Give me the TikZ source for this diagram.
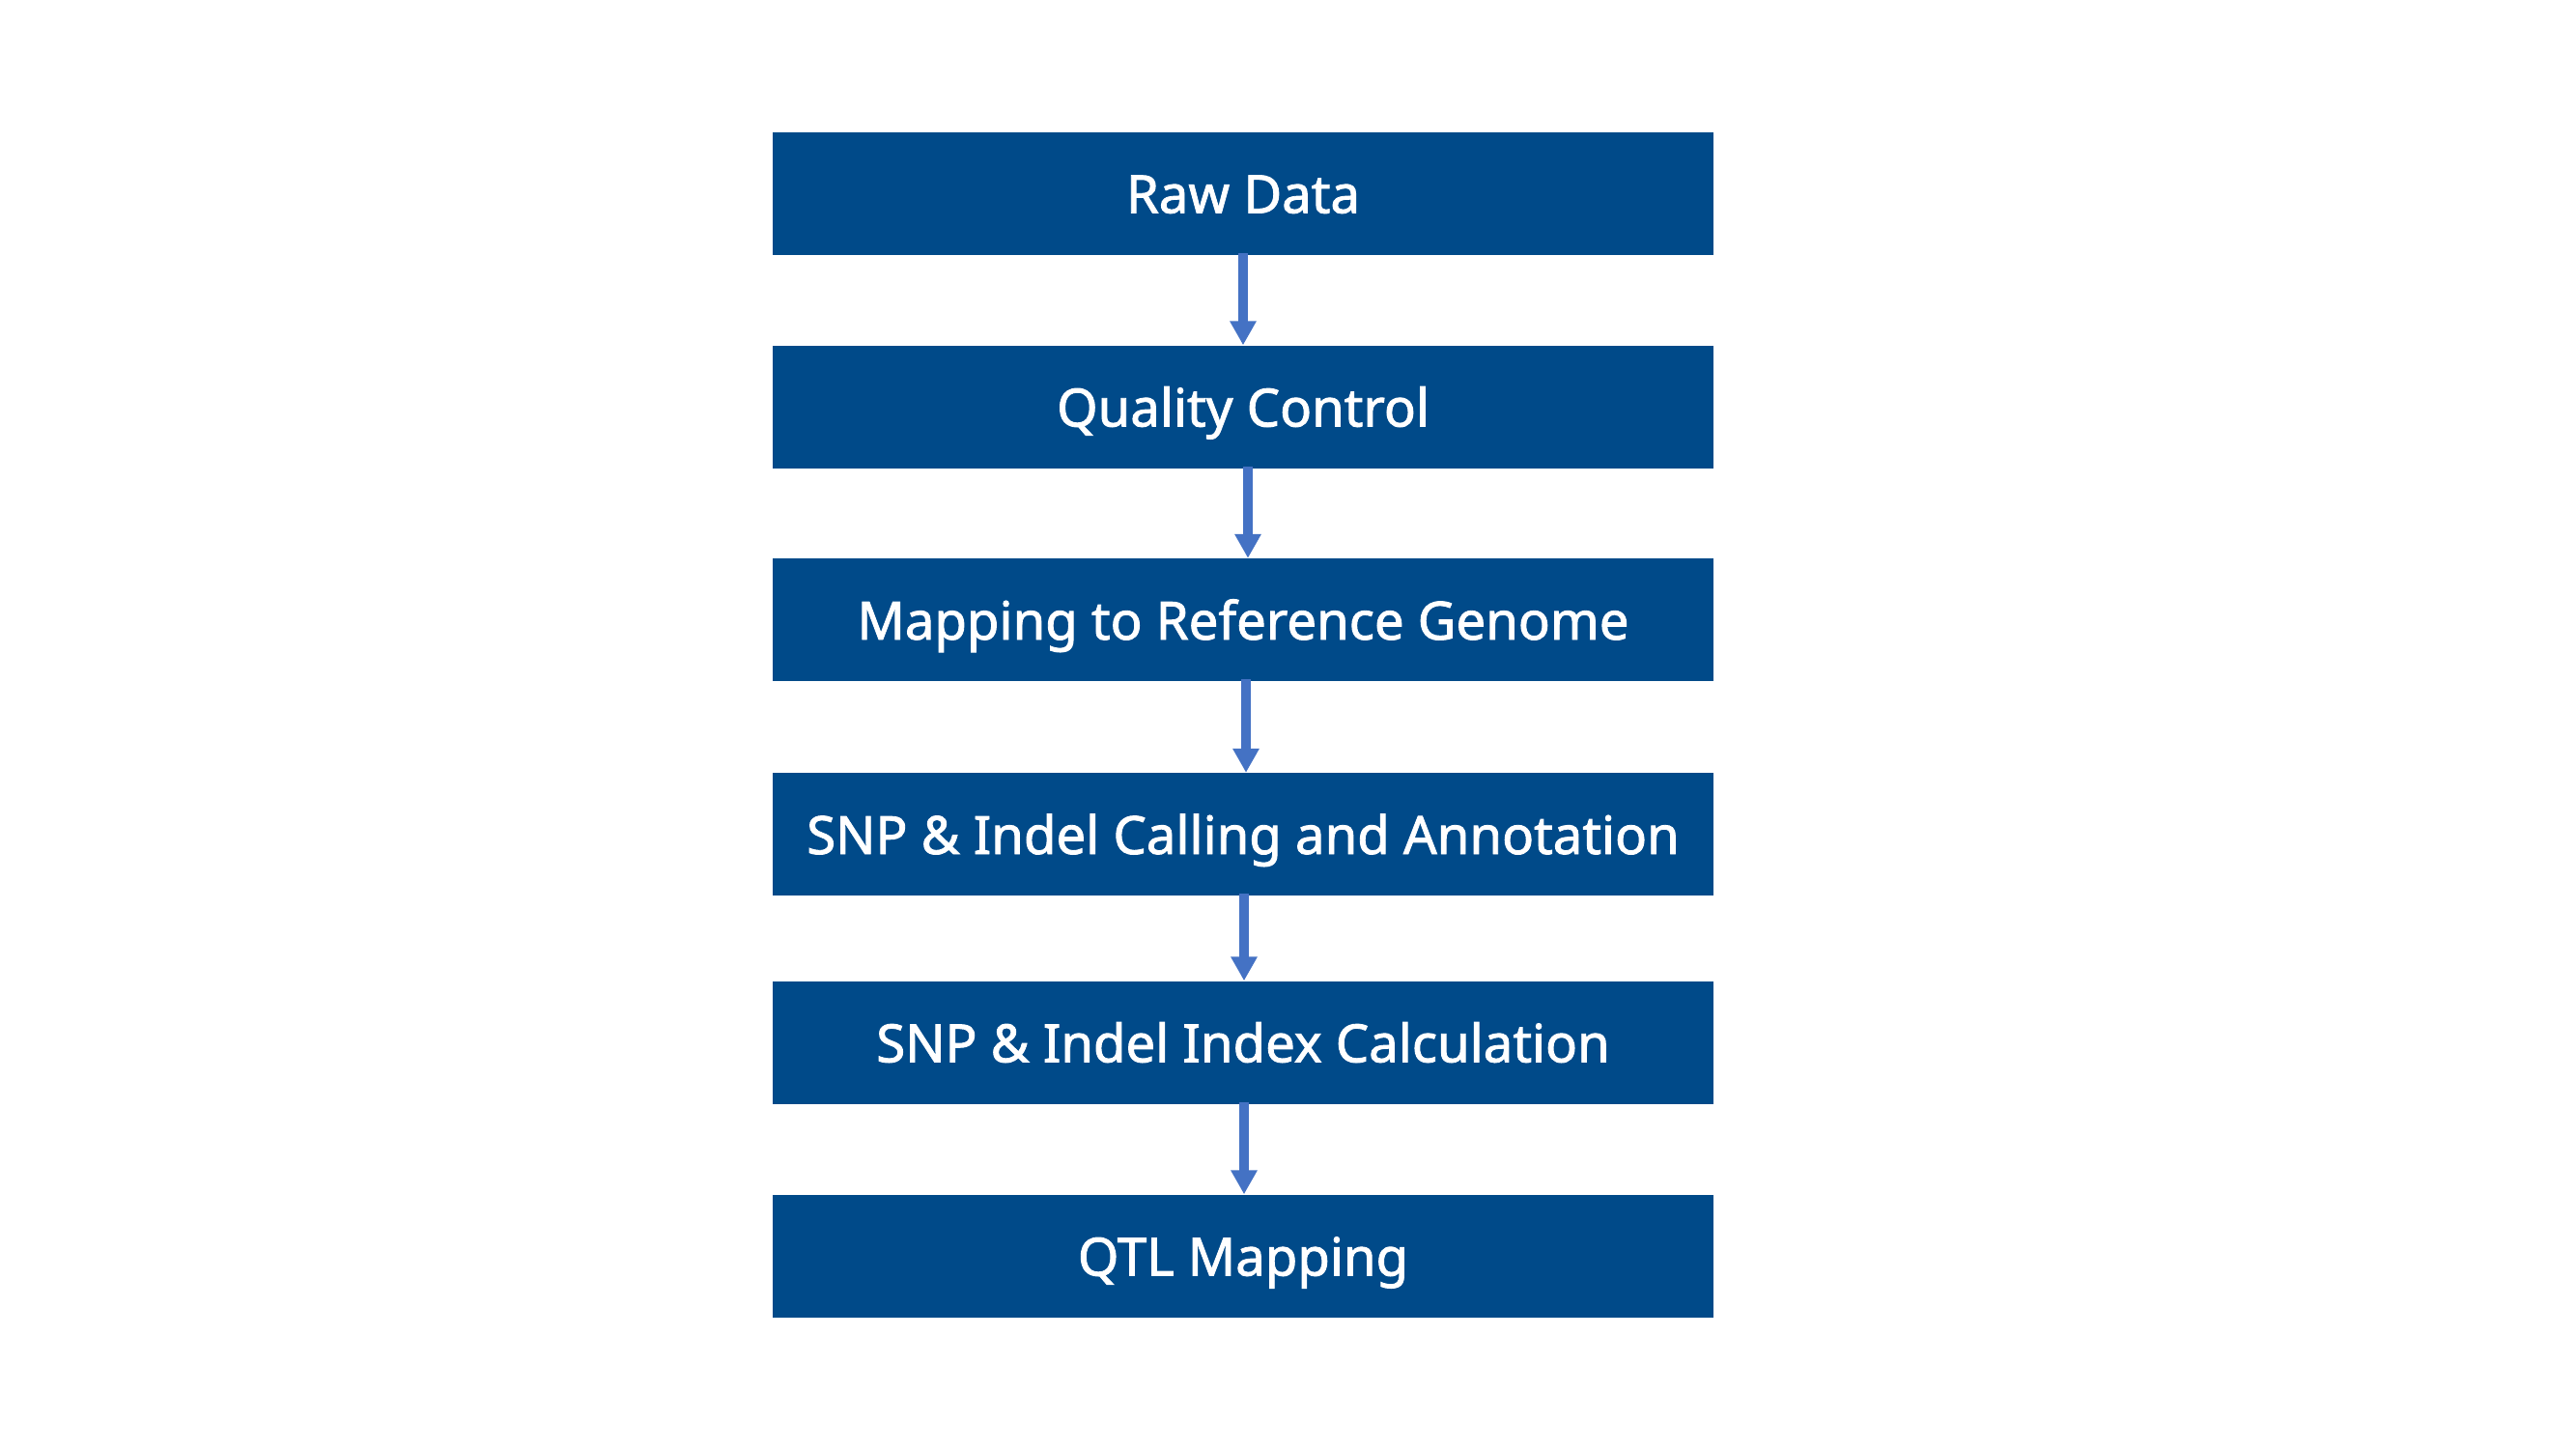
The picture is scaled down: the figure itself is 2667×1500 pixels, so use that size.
\documentclass[tikz,border=0pt]{standalone}
\usepackage{fontspec}
\setmainfont{Noto Sans}
\newfontfamily\stagefont{Noto Sans}[FakeBold=1.6]
\usetikzlibrary{arrows.meta}
\definecolor{boxblue}{RGB}{0,74,137}
\definecolor{arrowblue}{RGB}{68,114,196}
\tikzset{
  stagebox/.style={fill=boxblue, draw=none, inner sep=0pt,
    minimum width=974pt, minimum height=127pt,
    text=white, font=\stagefont\fontsize{54.5}{60}\selectfont,
    text height=41pt, text depth=0pt},
  flowarrow/.style={draw=arrowblue, line width=9.5pt,
    -{Triangle[width=26pt,length=25pt]}, shorten <=-2pt}
}
\begin{document}
\begin{tikzpicture}[x=1pt,y=-1pt]
\useasboundingbox (0,0) rectangle (2667,1500);
\fill[white] (0,0) rectangle (2667,1500);
\node[stagebox] (b1) at (1287,200) {Raw Data};
\node[stagebox] (b2) at (1287,421) {Quality Control};
\node[stagebox] (b3) at (1287,641.5) {Mapping to Reference Genome};
\node[stagebox] (b4) at (1287,863.5) {SNP \& Indel Calling and Annotation};
\node[stagebox] (b5) at (1287,1079) {SNP \& Indel Index Calculation};
\node[stagebox] (b6) at (1287,1300) {QTL Mapping};
\draw[flowarrow] ([xshift=0pt]b1.south) -- ([xshift=0pt]b2.north);
\draw[flowarrow] ([xshift=5pt]b2.south) -- ([xshift=5pt]b3.north);
\draw[flowarrow] ([xshift=3pt]b3.south) -- ([xshift=3pt]b4.north);
\draw[flowarrow] ([xshift=1pt]b4.south) -- ([xshift=1pt]b5.north);
\draw[flowarrow] ([xshift=1pt]b5.south) -- ([xshift=1pt]b6.north);
\end{tikzpicture}
\end{document}
